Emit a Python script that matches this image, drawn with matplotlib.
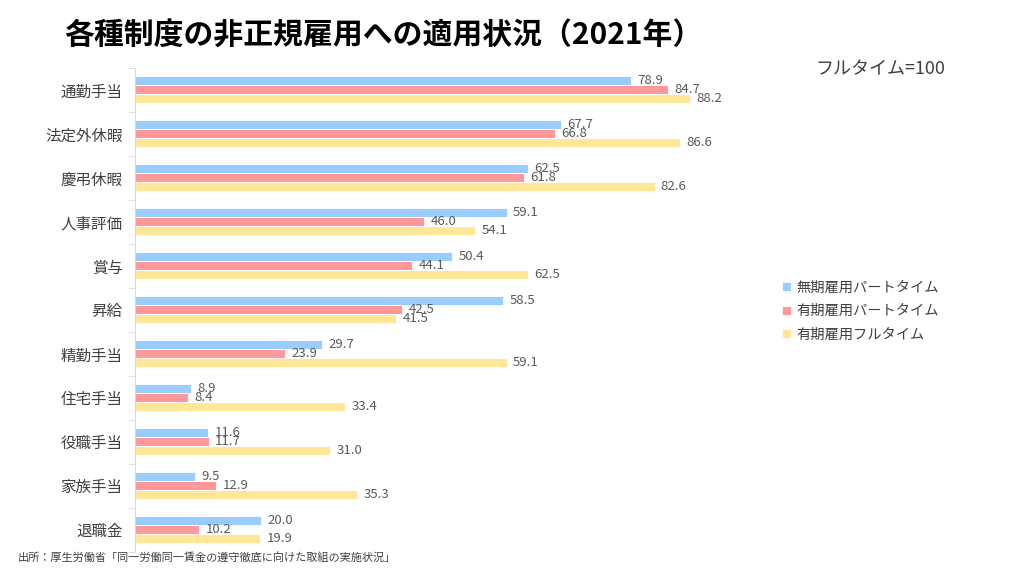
import matplotlib
matplotlib.use("Agg")
import matplotlib.pyplot as plt
import numpy as np

plt.rcParams['font.family'] = ['Noto Sans CJK JP', 'DejaVu Sans']

categories = ["通勤手当", "法定外休暇", "慶弔休暇", "人事評価", "賞与", "昇給",
              "精勤手当", "住宅手当", "役職手当", "家族手当", "退職金"]
series_names = ["無期雇用パートタイム", "有期雇用パートタイム", "有期雇用フルタイム"]
muki_part = [78.9, 67.7, 62.5, 59.1, 50.4, 58.5, 29.7, 8.9, 11.6, 9.5, 20.0]
yuki_part = [84.7, 66.8, 61.8, 46.0, 44.1, 42.5, 23.9, 8.4, 11.7, 12.9, 10.2]
yuki_full = [88.2, 86.6, 82.6, 54.1, 62.5, 41.5, 59.1, 33.4, 31.0, 35.3, 19.9]
colors = ["#99CCFF", "#FF9999", "#FFE699"]

fig = plt.figure(figsize=(10.24, 5.76), dpi=100)
ax = fig.add_axes([0.132, 0.042, 0.614, 0.840])

n = len(categories)
y = np.arange(n)
h = 0.205
series = [muki_part, yuki_part, yuki_full]
for i, (vals, c, name) in enumerate(zip(series, colors, series_names)):
    pos = y + (i - 1) * h
    ax.barh(pos, vals, height=h, color=c, edgecolor="white", linewidth=0.6, label=name)
    for p, v in zip(pos, vals):
        ax.text(v + 1.0, p, f"{v:.1f}", va="center", ha="left", fontsize=9.5,
                color="#595959")

ax.set_xlim(0, 100)
ax.set_ylim(n - 0.5, -0.5)
ax.set_yticks(y)
ax.set_yticklabels(categories, fontsize=11.2, color="#404040")
ax.tick_params(axis="y", length=0, pad=9)
ax.set_yticks(np.arange(n + 1) - 0.5, minor=True)
ax.tick_params(axis="y", which="minor", length=5, color="#D9D9D9")
ax.set_xticks([])
for s in ["top", "right", "bottom"]:
    ax.spines[s].set_visible(False)
ax.spines["left"].set_color("#D9D9D9")

leg = ax.legend(loc="upper left", bbox_to_anchor=(1.009, 0.587), frameon=False,
                fontsize=10.3, handlelength=0.6, handleheight=0.6, handletextpad=0.4,
                labelspacing=0.66, labelcolor="#404040")

fig.text(0.063, 0.938, "各種制度の非正規雇用への適用状況（2021年）", fontsize=21.5,
         fontweight="bold", ha="left", va="center", color="black")
fig.text(0.923, 0.879, "フルタイム=100", fontsize=13, ha="right", va="center",
         color="#404040")
fig.text(0.017, 0.031, "出所：厚生労働省「同一労働同一賃金の遵守徹底に向けた取組の実施状況」",
         fontsize=8.0, ha="left", va="center", color="#404040")

fig.savefig("out.png", dpi=100)
